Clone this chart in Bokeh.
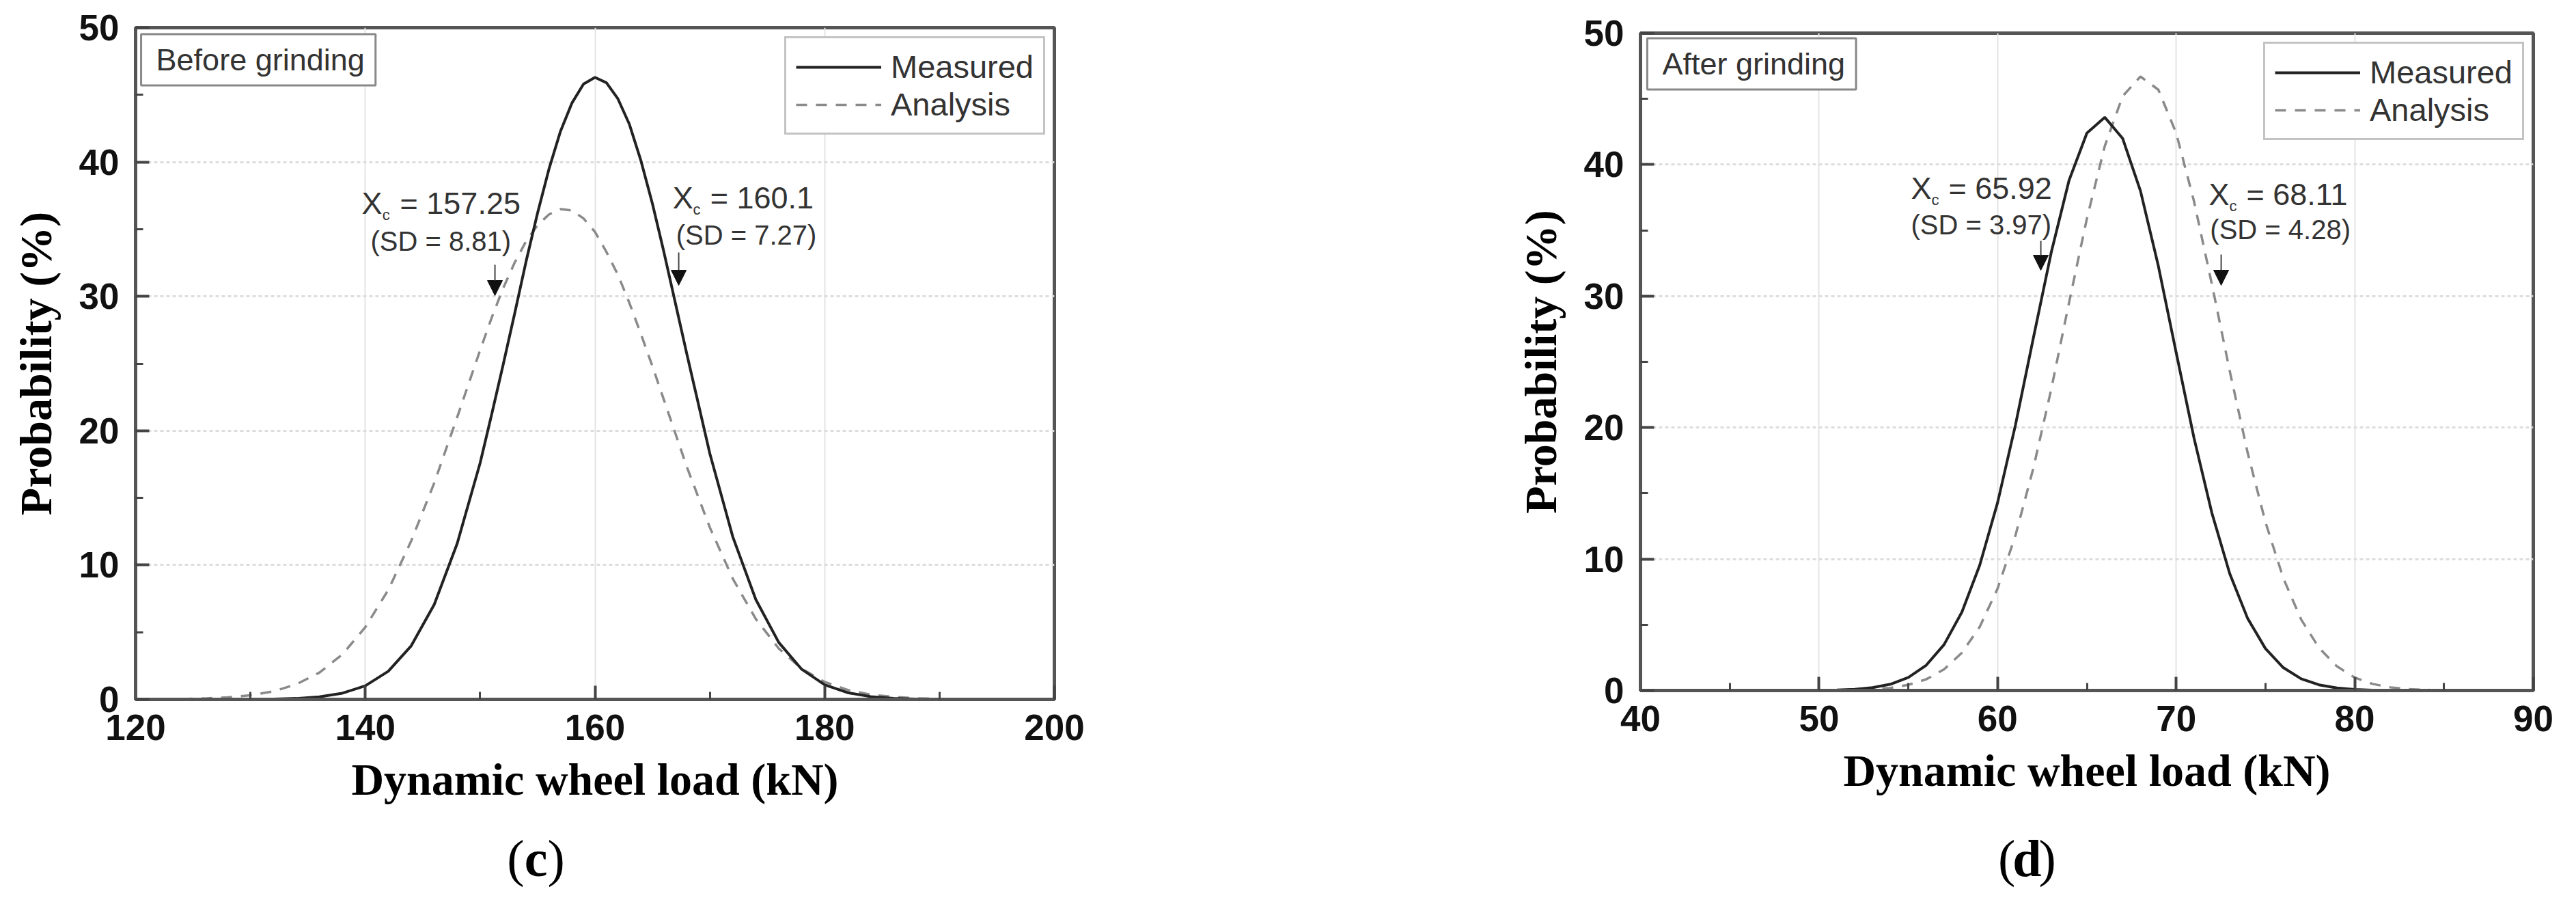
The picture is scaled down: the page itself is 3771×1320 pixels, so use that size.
from bokeh.plotting import figure
from bokeh.layouts import row, column
from bokeh.models import (Label, Arrow, NormalHead, Legend, LegendItem, Range1d,
                          FixedTicker, ColumnDataSource)
from bokeh.embed import file_html
from bokeh.resources import INLINE

# ---------------- data ----------------
# Panel (c): before grinding
c_load = [124, 126, 128, 130, 132, 134, 136, 138, 140, 142, 144, 146, 148, 150, 151,
          152, 153, 154, 155, 156, 157, 158, 159, 160, 161, 162, 163, 164, 165, 166,
          167, 168, 170, 172, 174, 176, 178, 180, 182, 184, 186, 188, 190]
c_measured = [0.0, 0.0, 0.0, 0.01, 0.03, 0.07, 0.19, 0.46, 1.01, 2.09, 3.99, 7.06, 11.6,
              17.6, 21.2, 24.9, 28.7, 32.6, 36.2, 39.5, 42.3, 44.4, 45.8, 46.3, 45.9,
              44.7, 42.8, 40.1, 36.9, 33.3, 29.5, 25.7, 18.3, 12.1, 7.44, 4.24, 2.24,
              1.09, 0.50, 0.21, 0.08, 0.03, 0.01]
c_analysis = [0.03, 0.07, 0.15, 0.31, 0.60, 1.12, 1.99, 3.35, 5.37, 8.15, 11.8, 16.1,
              21.0, 26.0, 28.4, 30.6, 32.5, 34.1, 35.3, 36.1, 36.5, 36.4, 35.8, 34.8,
              33.3, 31.6, 29.5, 27.2, 24.8, 22.3, 19.8, 17.3, 12.8, 8.98, 5.99, 3.79,
              2.28, 1.30, 0.70, 0.36, 0.18, 0.08, 0.04]

# Panel (d): after grinding
d_load = list(range(48, 87))
d_measured = [0.0, 0.0, 0.01, 0.04, 0.09, 0.22, 0.48, 0.99, 1.92, 3.49, 5.96, 9.54, 14.3,
              20.2, 26.8, 33.3, 38.8, 42.4, 43.6, 42.0, 38.0, 32.3, 25.7, 19.2, 13.5,
              8.89, 5.49, 3.19, 1.74, 0.89, 0.43, 0.19, 0.08, 0.03, 0.01, 0.0, 0.0, 0.0,
              0.0]
d_analysis = [0.0, 0.0, 0.0, 0.01, 0.04, 0.09, 0.20, 0.43, 0.85, 1.61, 2.87, 4.85, 7.76,
              11.8, 16.9, 22.9, 29.5, 35.9, 41.4, 45.2, 46.7, 45.7, 42.4, 37.2, 30.9,
              24.3, 18.1, 12.8, 8.54, 5.40, 3.24, 1.84, 0.98, 0.50, 0.24, 0.11, 0.05,
              0.02, 0.01]

c_xticks = [120, 140, 160, 180, 200]
c_xminor = [130, 150, 170, 190]
d_xticks = [40, 50, 60, 70, 80, 90]
d_xminor = [45, 55, 65, 75, 85]
y_ticks = [0, 10, 20, 30, 40, 50]
y_minor = [5, 15, 25, 35, 45]

series_names = ["Measured", "Analysis"]
c_box_text = "Before grinding"
d_box_text = "After grinding"
c_notes = [("157.25", "8.81"), ("160.1", "7.27")]
d_notes = [("65.92", "3.97"), ("68.11", "4.28")]
x_title = "Dynamic wheel load (kN)"
y_title = "Probability (%)"

SANS = "Liberation Sans"
SERIF = "Liberation Serif"
TAG_H = 90


def make_panel(xs, meas, ana, xr, xt, xm, fw, fh, top, right, bottom,
               box_text, box_xy, notes, note_pos):
    p = figure(output_backend="svg", toolbar_location=None,
               x_range=Range1d(*xr), y_range=Range1d(0, 50),
               frame_width=fw, frame_height=fh,
               min_border_left=198, min_border_right=right,
               min_border_top=top, min_border_bottom=bottom)
    p.background_fill_color = "white"
    p.border_fill_color = "white"
    p.outline_line_color = "#555555"
    p.outline_line_width = 5

    p.xaxis.ticker = FixedTicker(ticks=xt, minor_ticks=xm)
    p.yaxis.ticker = FixedTicker(ticks=y_ticks, minor_ticks=y_minor)
    for ax in (p.xaxis[0], p.yaxis[0]):
        ax.axis_line_color = "#555555"
        ax.axis_line_width = 5
        ax.major_tick_line_color = "#444444"
        ax.major_tick_line_width = 4
        ax.major_tick_in = 20
        ax.major_tick_out = 0
        ax.minor_tick_line_color = "#444444"
        ax.minor_tick_line_width = 3
        ax.minor_tick_in = 11
        ax.minor_tick_out = 0
        ax.major_label_text_font = SANS
        ax.major_label_text_font_style = "bold"
        ax.major_label_text_font_size = "53px"
        ax.major_label_text_color = "#111111"
        ax.axis_label_text_font = SERIF
        ax.axis_label_text_font_style = "bold"
        ax.axis_label_text_font_size = "66px"
        ax.axis_label_text_color = "#000000"
    p.xaxis.axis_label = x_title
    p.yaxis.axis_label = y_title
    p.xaxis.major_label_standoff = 22
    p.yaxis.major_label_standoff = 24
    p.xaxis.axis_label_standoff = 18
    p.yaxis.axis_label_standoff = 24

    p.xgrid.ticker = FixedTicker(ticks=xt)
    p.ygrid.ticker = FixedTicker(ticks=y_ticks)
    p.xgrid.grid_line_color = "#e4e4e4"
    p.xgrid.grid_line_width = 2
    p.ygrid.grid_line_color = "#dddddd"
    p.ygrid.grid_line_width = 3
    p.ygrid.grid_line_dash = "5 4"

    src = ColumnDataSource(dict(x=xs, m=meas, a=ana))
    r_a = p.line("x", "a", source=src, line_color="#8a8a8a", line_width=3.5,
                 line_dash="16 13")
    r_m = p.line("x", "m", source=src, line_color="#222222", line_width=4)

    legend = Legend(items=[LegendItem(label=series_names[0], renderers=[r_m]),
                           LegendItem(label=series_names[1], renderers=[r_a])],
                    location="top_right")
    legend.margin = 13
    legend.padding = 14
    legend.spacing = 0
    legend.glyph_width = 125
    legend.glyph_height = 50
    legend.label_standoff = 14
    legend.label_text_font = SANS
    legend.label_text_font_size = "47px"
    legend.label_text_color = "#333333"
    legend.border_line_color = "#888888"
    legend.border_line_width = 3
    legend.background_fill_color = "white"
    legend.background_fill_alpha = 1.0
    p.add_layout(legend)

    p.add_layout(Label(x=box_xy[0], y=box_xy[1], text=box_text, text_font=SANS,
                       text_font_size="45px", text_color="#333333",
                       text_align="left", text_baseline="middle",
                       background_fill_color="white", border_line_color="#888888",
                       border_line_width=3,
                       padding=dict(left=22, right=16, top=12, bottom=12)))

    for (xc, sd), pos in zip(notes, note_pos):
        (xX, yX), (xsub, ysub), xeq, (xsd, ysd), (xa, ya0, ya1) = pos
        p.add_layout(Label(x=xX, y=yX, text="X", text_font=SANS, text_font_size="45px",
                           text_color="#333333", text_align="left",
                           text_baseline="alphabetic"))
        p.add_layout(Label(x=xsub, y=ysub, text="c", text_font=SANS,
                           text_font_size="22px", text_color="#333333",
                           text_align="left", text_baseline="alphabetic"))
        p.add_layout(Label(x=xeq, y=yX, text="= " + xc, text_font=SANS,
                           text_font_size="45px", text_color="#333333",
                           text_align="left", text_baseline="alphabetic"))
        p.add_layout(Label(x=xsd, y=ysd, text="(SD = " + sd + ")", text_font=SANS,
                           text_font_size="40px", text_color="#333333",
                           text_align="left", text_baseline="middle"))
        p.add_layout(Arrow(end=NormalHead(size=22, fill_color="#111111",
                                          line_color="#111111"),
                           x_start=xa, y_start=ya0, x_end=xa, y_end=ya1,
                           line_color="#444444", line_width=2))
    return p


def make_tag(xr, fw, right, tag, tag_x, tag_y):
    t = figure(output_backend="svg", toolbar_location=None,
               x_range=Range1d(*xr), y_range=Range1d(0, TAG_H),
               frame_width=fw, frame_height=TAG_H,
               min_border_left=198, min_border_right=right,
               min_border_top=0, min_border_bottom=0,
               x_axis_type=None, y_axis_type=None)
    t.outline_line_color = None
    t.xgrid.visible = False
    t.ygrid.visible = False
    t.background_fill_color = "white"
    t.border_fill_color = "white"
    t.add_layout(Label(x=tag_x, y=tag_y, x_offset=-17, text="(", text_font=SERIF,
                       text_font_size="76px", text_color="#000000",
                       text_align="right", text_baseline="middle"))
    t.add_layout(Label(x=tag_x, y=tag_y, text=tag, text_font=SERIF,
                       text_font_style="bold", text_font_size="76px",
                       text_color="#000000", text_align="center",
                       text_baseline="middle"))
    t.add_layout(Label(x=tag_x, y=tag_y, x_offset=17, text=")", text_font=SERIF,
                       text_font_size="76px", text_color="#000000",
                       text_align="left", text_baseline="middle"))
    return t


c_note_pos = [
    ((139.69, 36.93), (141.48, 36.06), 143.02, (140.46, 34.13), (151.29, 32.35, 30.06)),
    ((166.76, 37.33), (168.54, 36.47), 170.03, (167.06, 34.54), (167.29, 33.27, 30.82)),
]
d_note_pos = [
    ((55.15, 38.20), (56.30, 37.32), 57.25, (55.15, 35.40), (62.42, 34.20, 31.96)),
    ((71.83, 37.73), (72.98, 36.85), 73.93, (71.90, 35.08), (72.52, 33.16, 30.82)),
]

p1 = make_panel(c_load, c_measured, c_analysis, (120, 200), c_xticks, c_xminor,
                1345, 983, 40, 660, 190, c_box_text, (120.48, 47.61),
                c_notes, c_note_pos)
t1 = make_tag((120, 200), 1345, 660, "c", 154.86, 48)
p2 = make_panel(d_load, d_measured, d_analysis, (40, 90), d_xticks, d_xminor,
                1307, 962, 48, 47, 203, d_box_text, (40.38, 47.66),
                d_notes, d_note_pos)
t2 = make_tag((40, 90), 1307, 47, "d", 61.65, 48)

layout = row(column(p1, t1), column(p2, t2))
open("out.html", "w").write(file_html(layout, INLINE))
